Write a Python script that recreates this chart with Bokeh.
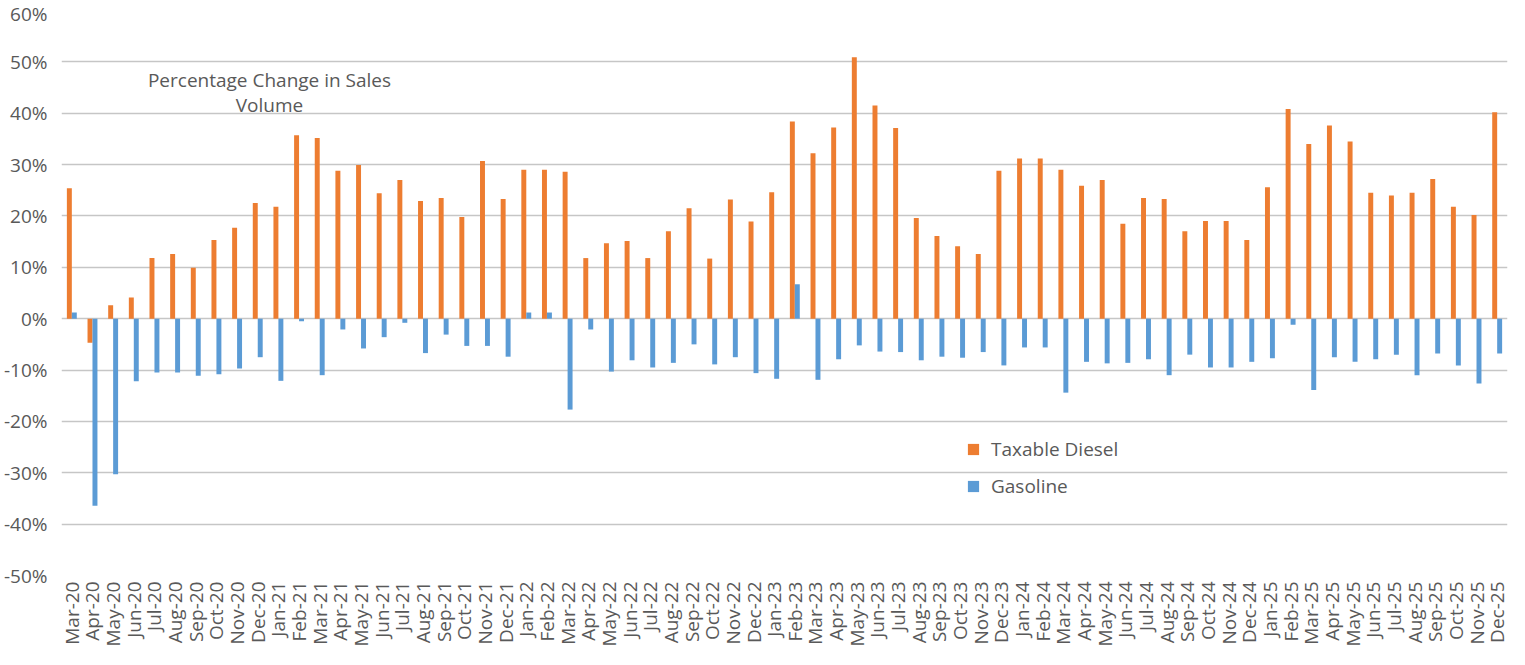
import math
from bokeh.plotting import figure
from bokeh.models import (FactorRange, Range1d, FixedTicker, PrintfTickFormatter,
                          ColumnDataSource, Legend, LegendItem, Label)
from bokeh.transform import dodge
from bokeh.embed import file_html
from bokeh.resources import INLINE

months = [
    "Mar-20", "Apr-20", "May-20", "Jun-20", "Jul-20", "Aug-20", "Sep-20", "Oct-20", "Nov-20", "Dec-20",
    "Jan-21", "Feb-21", "Mar-21", "Apr-21", "May-21", "Jun-21", "Jul-21", "Aug-21", "Sep-21", "Oct-21", "Nov-21", "Dec-21",
    "Jan-22", "Feb-22", "Mar-22", "Apr-22", "May-22", "Jun-22", "Jul-22", "Aug-22", "Sep-22", "Oct-22", "Nov-22", "Dec-22",
    "Jan-23", "Feb-23", "Mar-23", "Apr-23", "May-23", "Jun-23", "Jul-23", "Aug-23", "Sep-23", "Oct-23", "Nov-23", "Dec-23",
    "Jan-24", "Feb-24", "Mar-24", "Apr-24", "May-24", "Jun-24", "Jul-24", "Aug-24", "Sep-24", "Oct-24", "Nov-24", "Dec-24",
    "Jan-25", "Feb-25", "Mar-25", "Apr-25", "May-25", "Jun-25", "Jul-25", "Aug-25", "Sep-25", "Oct-25", "Nov-25", "Dec-25",
]

taxable_diesel = [
    25.4, -4.7, 2.6, 4.1, 11.8, 12.6, 9.9, 15.3, 17.7, 22.5,
    21.8, 35.7, 35.2, 28.8, 29.9, 24.4, 27.0, 22.9, 23.5, 19.8, 30.7, 23.3,
    29.0, 29.0, 28.6, 11.8, 14.7, 15.1, 11.8, 17.0, 21.5, 11.7, 23.2, 18.9,
    24.6, 38.4, 32.2, 37.2, 50.9, 41.5, 37.1, 19.6, 16.1, 14.1, 12.6, 28.8,
    31.2, 31.2, 29.0, 25.9, 27.0, 18.5, 23.5, 23.3, 17.0, 19.0, 19.0, 15.3,
    25.6, 40.8, 34.0, 37.6, 34.5, 24.5, 24.0, 24.5, 27.2, 21.8, 20.2, 40.2,
]

gasoline = [
    1.2, -36.4, -30.3, -12.2, -10.5, -10.5, -11.1, -10.8, -9.7, -7.5,
    -12.1, -0.5, -11.0, -2.1, -5.8, -3.6, -0.8, -6.7, -3.1, -5.3, -5.3, -7.4,
    1.2, 1.2, -17.7, -2.1, -10.3, -8.1, -9.5, -8.6, -5.0, -8.9, -7.5, -10.6,
    -11.7, 6.7, -11.9, -7.9, -5.2, -6.4, -6.5, -8.1, -7.4, -7.6, -6.5, -9.1,
    -5.6, -5.6, -14.4, -8.4, -8.7, -8.6, -7.9, -11.0, -7.0, -9.5, -9.5, -8.4,
    -7.7, -1.2, -13.9, -7.5, -8.4, -7.9, -7.0, -11.0, -6.8, -9.1, -12.6, -6.8,
]

y_ticks = [-50, -40, -30, -20, -10, 0, 10, 20, 30, 40, 50, 60]

series_names = ["Taxable Diesel", "Gasoline"]
title_lines = ["Percentage Change in Sales", "Volume"]

ORANGE = "#ED7D31"
BLUE = "#5B9BD5"
TEXT = "#595959"
FONT = "Open Sans"

source = ColumnDataSource(data=dict(month=months, diesel=taxable_diesel, gas=gasoline))

p = figure(width=1509, height=649, output_backend="svg", toolbar_location=None,
           x_range=FactorRange(factors=months, range_padding=0),
           y_range=Range1d(-50, 60),
           min_border_left=60, min_border_right=2, min_border_top=10, min_border_bottom=74)
p.outline_line_color = None
p.background_fill_color = "white"
p.border_fill_color = "white"

r1 = p.vbar(x=dodge("month", -0.12, range=p.x_range), top="diesel", width=0.24,
            source=source, fill_color=ORANGE, line_color=None)
r2 = p.vbar(x=dodge("month", 0.12, range=p.x_range), top="gas", width=0.24,
            source=source, fill_color=BLUE, line_color=None)

p.xgrid.grid_line_color = None
p.ygrid.grid_line_color = "#c6c6c6"
p.ygrid.grid_line_width = 1.5
p.ygrid.ticker = FixedTicker(ticks=y_ticks)

p.yaxis.ticker = FixedTicker(ticks=y_ticks)
p.yaxis.formatter = PrintfTickFormatter(format="%d%%")
for ax in (p.xaxis[0], p.yaxis[0]):
    ax.axis_line_color = None
    ax.major_tick_line_color = None
    ax.minor_tick_line_color = None
    ax.major_tick_out = 0
    ax.major_tick_in = 0
    ax.major_label_text_font = FONT
    ax.major_label_text_font_size = "19px"
    ax.major_label_text_color = TEXT
p.yaxis.major_label_standoff = 14
p.xaxis.major_label_standoff = 6
p.xaxis.major_label_orientation = math.pi / 2

legend = Legend(items=[LegendItem(label=series_names[0], renderers=[r1]),
                       LegendItem(label=series_names[1], renderers=[r2])],
                location=(905, 76), orientation="vertical",
                glyph_width=14, glyph_height=14, label_height=20, label_standoff=11,
                spacing=11, padding=0, margin=0,
                border_line_color=None, background_fill_alpha=0,
                label_text_font=FONT, label_text_font_size="19px", label_text_color=TEXT)
p.add_layout(legend, "center")

p.add_layout(Label(x=208, y=496, x_units="screen", y_units="screen", text=title_lines[0],
                   text_align="center", text_baseline="middle", text_font=FONT,
                   text_font_size="19px", text_color=TEXT))
p.add_layout(Label(x=208, y=471, x_units="screen", y_units="screen", text=title_lines[1],
                   text_align="center", text_baseline="middle", text_font=FONT,
                   text_font_size="19px", text_color=TEXT))

open("out.html", "w").write(file_html(p, INLINE))
